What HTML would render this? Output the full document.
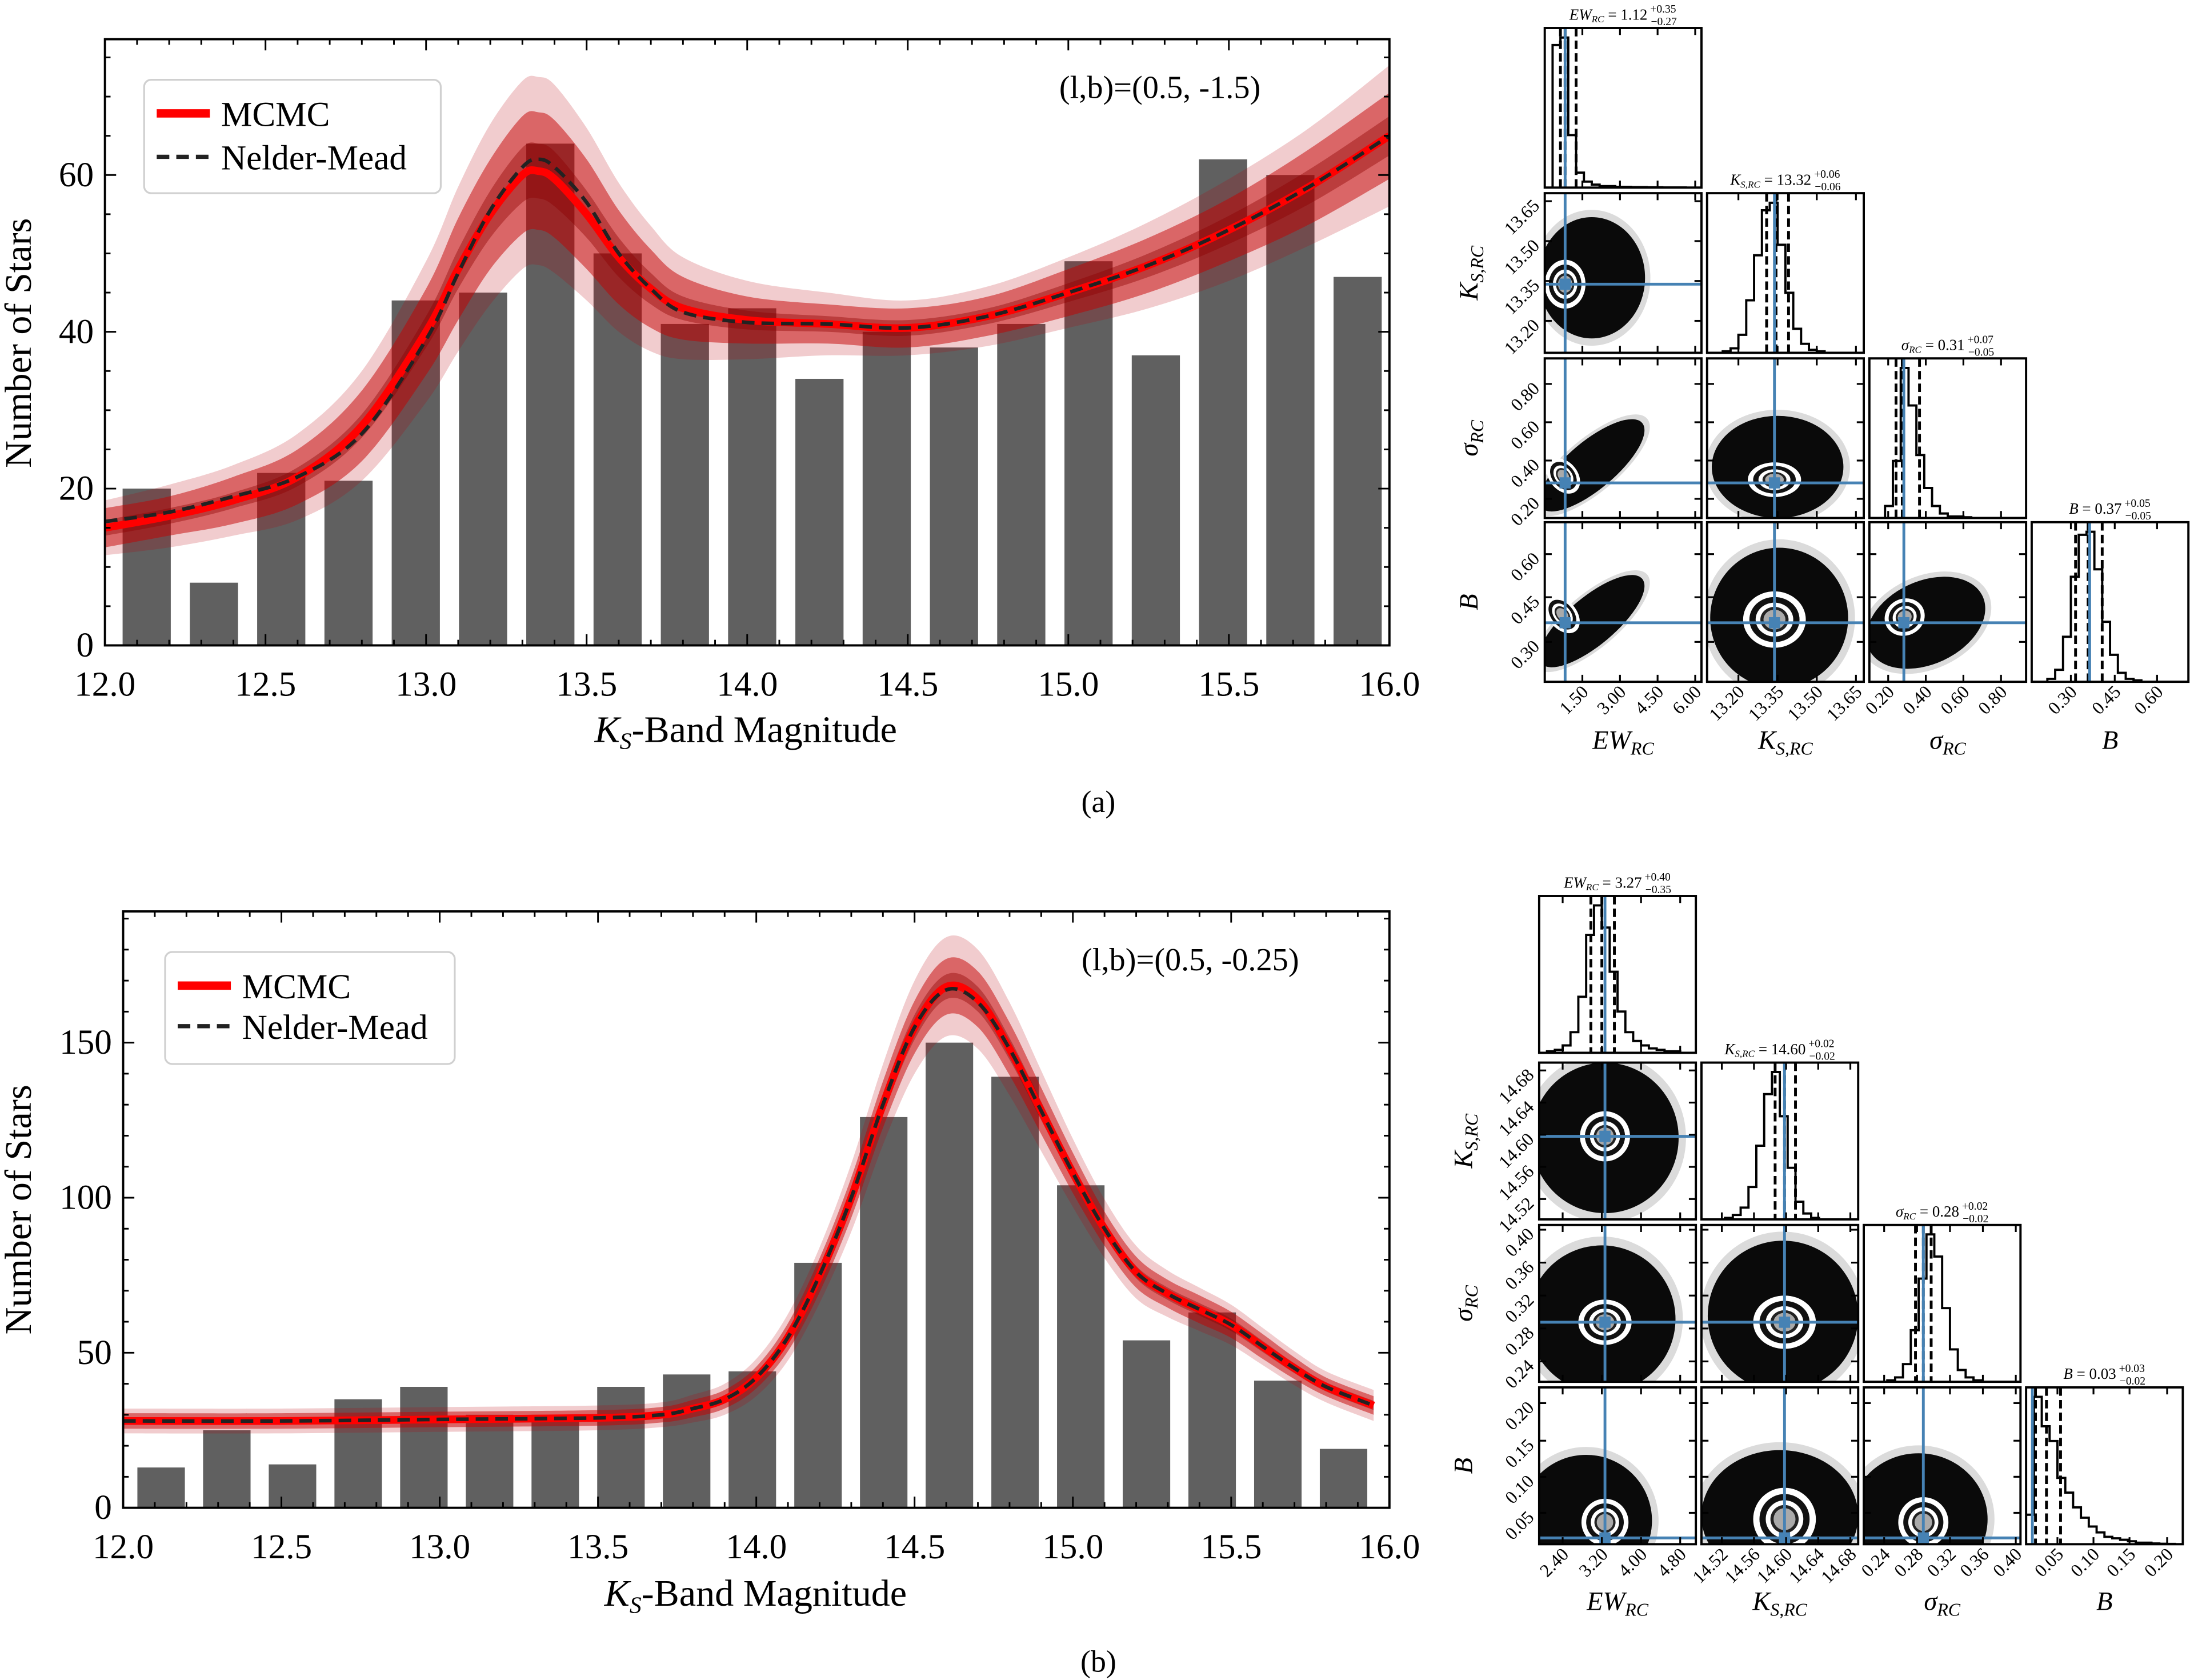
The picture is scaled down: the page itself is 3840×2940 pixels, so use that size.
<!DOCTYPE html>
<html><head><meta charset="utf-8"><style>
html,body{margin:0;padding:0;background:#fff}
svg{display:block}
text{font-family:"Liberation Serif","DejaVu Serif",serif;fill:#000}
</style></head><body>
<svg id="fig" xmlns="http://www.w3.org/2000/svg" width="3840" height="2940" viewBox="0 0 1568 1200" preserveAspectRatio="none">
<defs>
<clipPath id="clipA"><rect x="75" y="28" width="918" height="433"/></clipPath>
<clipPath id="clipB"><rect x="88" y="651" width="905" height="426"/></clipPath>
</defs>
</svg>
<script>
// ===== Panel (a) data =====
const aCounts=[20,8,22,21,44,45,64,50,41,43,34,40,38,41,49,37,62,60,47];
const aCurveX=[12.0,12.2,12.4,12.6,12.8,13.0,13.1,13.2,13.3,13.35,13.4,13.5,13.6,13.7,13.8,14.0,14.25,14.5,14.75,15.0,15.25,15.5,15.75,16.0];
const aMCMC=[15,16.5,18.5,21.5,28,40,48,55,60,60.5,59.5,55,49.5,45.5,43,41.5,41,40.5,42,45,48.5,53,58.5,65];
const aNM=[15.8,17,19,21.5,27,39,47.5,55.5,61,62,61,56.5,50,45.5,42.5,41.2,41,40.5,42,45,48.5,53,58.5,65];
const aW1=[1,1,1,1.2,1.5,2,2.5,3,3.5,3.5,3.5,3,2.5,2,1.5,1.2,1,1,1,1.2,1.5,1.8,2.2,2.5];
const aW2=[2.5,2.5,3,3.5,4.5,5.5,6.5,7,7.5,7.5,7.5,7,6,5,4,3,2.5,2.5,2.5,3,3.5,4,4.8,5.5];
const aW3=[3.5,4,4.5,5.5,7,9,10.5,11.5,12,12,12,11,9.5,8,6.5,5,4,3.5,3.8,4.5,5.5,6.5,7.5,9];
const aYTicks=[0,20,40,60];
// ===== Panel (b) data =====
const bCounts=[13,25,14,35,39,30,30,39,43,44,79,126,150,139,104,54,63,41,19];
const bCurveX=[12.0,12.5,13.0,13.5,13.7,13.8,13.9,14.0,14.1,14.2,14.3,14.4,14.5,14.6,14.7,14.8,14.9,15.0,15.1,15.2,15.3,15.4,15.5,15.6,15.7,15.8,15.95];
const bMCMC=[28,28,28.5,29,30,32,35,42,55,75,100,130,155,168,164,148,128,108,90,76,69,64,59,52,45,39,33];
const bNM=[28,28,28.5,29,30,32,35,42,55,75,100,130,155,167,163,148,128,108,90,76,69,64,59,52,45,39,33];
const bW1=[1,1,1,1,1,1,1.2,1.5,2,2.5,3,3.5,4,4,4,3.5,3,2.5,2,2,2,2,2,1.8,1.6,1.5,1.5];
const bW2=[2.5,2.5,2.5,2.5,2.5,2.8,3,3.5,4.5,5.5,6.5,7.5,8.5,9,9,8.5,7.5,6.5,5.5,5,4.5,4.5,4.2,4,3.5,3,3];
const bW3=[4,4,4,4,4,4.5,5,6,7.5,9,11,13,15,16,16,15,13,11,9.5,8.5,7.5,7,6.5,6,5.5,5,5];
const bYTicks=[0,50,100,150];
const xTickLabels=["12.0","12.5","13.0","13.5","14.0","14.5","15.0","15.5","16.0"];

// ===== Corner data (histograms, 20 bins each) =====
const caHistEW=[0,95,100,35,10,4,2,1,1,.5,.5,.3,.3,.2,.2,.1,.1,.1,0,0];
const caHistK=[0,0,1,3,12,35,65,95,100,72,40,16,6,2,1,0,0,0,0,0];
const caHistS=[0,0,8,38,100,75,42,20,8,3,1,1,.5,0,0,0,0,0,0,0];
const caHistB=[0,0,2,8,30,70,98,100,75,40,18,6,2,1,0,0,0,0,0,0];
const caTruth=[0.13,0.43,0.22,0.37];
const caQ=[[0.1,0.13,0.2],[0.38,0.44,0.52],[0.17,0.21,0.32],[0.28,0.36,0.45]];
const cbHistEW=[0,1,2,5,14,38,80,100,85,55,28,14,8,5,3,2,1,1,0,0];
const cbHistK=[0,0,0,1,3,8,22,50,85,100,70,35,12,4,1,0,0,0,0,0];
const cbHistS=[0,0,0,1,3,12,35,70,100,85,50,22,8,3,1,0,0,0,0,0];
const cbHistB=[20,100,80,70,45,35,25,18,12,8,5,4,3,2,1,1,.5,.3,.2,0];
const cbTruth=[0.42,0.53,0.38,0.04];
const cbQ=[[0.33,0.4,0.48],[0.47,0.53,0.6],[0.33,0.38,0.43],[0.06,0.13,0.22]];

const NS="http://www.w3.org/2000/svg";
const svg=document.getElementById('fig');
function mk(tag,attrs,parent){const e=document.createElementNS(NS,tag);for(const k in attrs)e.setAttribute(k,attrs[k]);(parent||svg).appendChild(e);return e;}
function smooth(pts){let d="M"+pts[0][0]+","+pts[0][1];for(let i=0;i<pts.length-1;i++){const p0=pts[Math.max(0,i-1)],p1=pts[i],p2=pts[i+1],p3=pts[Math.min(pts.length-1,i+2)];const c1x=p1[0]+(p2[0]-p0[0])/6,c1y=p1[1]+(p2[1]-p0[1])/6,c2x=p2[0]-(p3[0]-p1[0])/6,c2y=p2[1]-(p3[1]-p1[1])/6;d+=" C"+c1x+","+c1y+" "+c2x+","+c2y+" "+p2[0]+","+p2[1];}return d;}

function drawMain(cfg){
  const {x0,x1,y0,top,ppv,counts,binStart,binStep,cx,mc,nm,w1,w2,w3,yTicks,yMinor,clip,name}=cfg;
  const X=v=>x0+(v-12)/4*(x1-x0), Y=v=>y0-v*ppv;
  const g=mk('g',{});
  
  
  const bw=(X(12.15)-X(12));
  counts.forEach((c,i)=>{const cxv=binStart+i*binStep;const r=mk('rect',{x:X(cxv)-bw/2,y:Y(c),width:bw,height:Y(0)-Y(c),fill:'#606060'},g);
    
    });
  const cg=mk('g',{'clip-path':'url(#'+clip+')'},g);
  [[w3,'rgba(185,0,10,0.2)'],[w2,'rgba(195,0,0,0.5)'],[w1,'rgba(140,0,0,0.4)']].forEach(([w,col],k)=>{
    const up=cx.map((x,i)=>[X(x),Y(mc[i]+w[i])]),lo=cx.map((x,i)=>[X(x),Y(mc[i]-w[i])]).reverse();
    const sl=smooth(lo);
    const d=smooth(up)+" L"+lo[0][0]+","+lo[0][1]+sl.slice(sl.indexOf(' C'))+" Z";
    const p=mk('path',{d:d,fill:col,stroke:'none'},cg);
    
    });
  const l1=mk('path',{d:smooth(cx.map((x,i)=>[X(x),Y(mc[i])])),fill:'none',stroke:'#ff0000','stroke-width':5.5},cg);
  
  
  const l2=mk('path',{d:smooth(cx.map((x,i)=>[X(x),Y(nm[i])])),fill:'none',stroke:'#222','stroke-width':2.6,'stroke-dasharray':'9,5'},cg);
  
  
  const fr=mk('rect',{x:x0,y:top,width:x1-x0,height:y0-top,fill:'none',stroke:'#000','stroke-width':1.6},g);
  
  
  for(let t=120;t<=160;t++){const v=t/10;const maj=t%5===0;const L=maj?8:4;
    mk('line',{x1:X(v),x2:X(v),y1:y0,y2:y0-L,stroke:'#000','stroke-width':1.2},g);
    mk('line',{x1:X(v),x2:X(v),y1:top,y2:top+L,stroke:'#000','stroke-width':1.2},g);}
  xTickLabels.forEach((s,i)=>{const t=mk('text',{x:X(12+i*0.5),y:y0+36,'font-size':25,'text-anchor':'middle'},g);t.textContent=s;
    
    });
  const ymax=(y0-top)/ppv;
  for(let v=0;v<=ymax;v+=yMinor){const maj=yTicks.includes(v);const L=maj?8:4;
    mk('line',{x1:x0,x2:x0+L,y1:Y(v),y2:Y(v),stroke:'#000','stroke-width':1.2},g);
    mk('line',{x1:x1,x2:x1-L,y1:Y(v),y2:Y(v),stroke:'#000','stroke-width':1.2},g);}
  yTicks.forEach(v=>{const t=mk('text',{x:x0-8,y:Y(v)+8,'font-size':25,'text-anchor':'end'},g);t.textContent=v;
    
    });
}
drawMain({name:'panel-a',x0:75,x1:993,y0:461,top:28,ppv:5.6,counts:aCounts,binStart:12.13,binStep:0.2095,cx:aCurveX,mc:aMCMC,nm:aNM,w1:aW1,w2:aW2,w3:aW3,yTicks:aYTicks,yMinor:5,clip:'clipA'});
drawMain({name:'panel-b',x0:88,x1:993,y0:1077,top:651,ppv:2.215,counts:bCounts,binStart:12.12,binStep:0.2075,cx:bCurveX,mc:bMCMC,nm:bNM,w1:bW1,w2:bW2,w3:bW3,yTicks:bYTicks,yMinor:10,clip:'clipB'});

function txt(x,y,size,html,name,extra){const t=mk('text',Object.assign({x:x,y:y,'font-size':size},extra||{}));t.innerHTML=html;
  
  return t;}
function legend(x,y,w,h,lx,ly1,ly2,name){
  const g=mk('g',{});
  
  
  mk('rect',{x:x,y:y,width:w,height:h,rx:5,fill:'#fff','fill-opacity':0.85,stroke:'#d0d0d0','stroke-width':1.3},g);
  mk('line',{x1:lx,x2:lx+38,y1:ly1,y2:ly1,stroke:'#ff0000','stroke-width':6},g);
  mk('line',{x1:lx,x2:lx+38,y1:ly2,y2:ly2,stroke:'#222','stroke-width':3,'stroke-dasharray':'9,5'},g);
  const t1=mk('text',{x:lx+46,y:ly1+9,'font-size':25},g);t1.textContent='MCMC';
  
  
  const t2=mk('text',{x:lx+46,y:ly2+9,'font-size':25},g);t2.textContent='Nelder-Mead';
  
  
}
legend(103,57,212,81,112,81,112,'legend-a');
legend(118,680,207,80,127,704,733,'legend-b');
txt(757,70,23,'(l,b)=(0.5, -1.5)','coords-label-a');
txt(773,693,23,'(l,b)=(0.5, -0.25)','coords-label-b');
txt(533,530,27,'<tspan font-style="italic">K</tspan><tspan font-style="italic" font-size="17" dy="5">S</tspan><tspan dy="-5">-Band Magnitude</tspan>','x-axis-title-a',{'text-anchor':'middle'});
txt(540,1147,27,'<tspan font-style="italic">K</tspan><tspan font-style="italic" font-size="17" dy="5">S</tspan><tspan dy="-5">-Band Magnitude</tspan>','x-axis-title-b',{'text-anchor':'middle'});
txt(22,245,27,'Number of Stars','y-axis-title-a',{'text-anchor':'middle',transform:'rotate(-90 22 245)'});
txt(22,864,27,'Number of Stars','y-axis-title-b',{'text-anchor':'middle',transform:'rotate(-90 22 864)'});
txt(785,580,22,'(a)','caption-a',{'text-anchor':'middle'});
txt(785,1194,22,'(b)','caption-b',{'text-anchor':'middle'});

// ===== Corner plots =====
function corner(c){
  const {cols,rows,w,h,hists,truth,q,blobs,ticks,titles,name,labelY,yLabelX}=c;
  const g=mk('g',{});
  
  
  const names=['<tspan font-style="italic">EW</tspan><tspan font-style="italic" font-size="13" dy="4">RC</tspan>',
    '<tspan font-style="italic">K</tspan><tspan font-style="italic" font-size="13" dy="4">S,RC</tspan>',
    '<tspan font-style="italic">σ</tspan><tspan font-style="italic" font-size="13" dy="4">RC</tspan>',
    '<tspan font-style="italic">B</tspan>'];
  const blue='#4682b4';
  let bi=0;
  for(let r=0;r<4;r++)for(let col=0;col<=r;col++){
    const x=cols[col],y=rows[r];
    const pg=mk('g',{},g);
    const cid=name+'c'+r+col;
    const cp=mk('clipPath',{id:cid},pg);mk('rect',{x:x,y:y,width:w,height:h},cp);
    if(r===col){
      
      
      const hs=hists[r],mx=Math.max(...hs),n=hs.length,bwid=w/n;
      let d="M"+x+","+(y+h);
      hs.forEach((v,i)=>{const yy=y+h-v/mx*h*0.94;d+=" L"+(x+i*bwid)+","+yy+" L"+(x+(i+1)*bwid)+","+yy;});
      d+=" L"+(x+w)+","+(y+h);
      mk('path',{d:d,fill:'none',stroke:'#000','stroke-width':1.6,'clip-path':'url(#'+cid+')'},pg);
      q[r].forEach(f=>mk('line',{x1:x+f*w,x2:x+f*w,y1:y,y2:y+h,stroke:'#000','stroke-width':2,'stroke-dasharray':'6,3'},pg));
      mk('line',{x1:x+truth[r]*w,x2:x+truth[r]*w,y1:y,y2:y+h,stroke:blue,'stroke-width':2},pg);
      const tt=mk('text',{x:x+w/2,y:y-6,'font-size':11,'text-anchor':'middle'},g);tt.innerHTML=titles[r];
      
      
    } else {
      
      
      const b=blobs[bi++];const cg=mk('g',{'clip-path':'url(#'+cid+')'},pg);
      const ex=x+b[0]*w,ey=y+h-b[1]*h,rx=b[2]*w,ry=b[3]*h,rot=b[4];
      mk('ellipse',{cx:ex,cy:ey,rx:rx*1.1,ry:ry*1.12,fill:'#888','fill-opacity':0.3,transform:'rotate('+rot+' '+ex+' '+ey+')'},cg);
      mk('ellipse',{cx:ex,cy:ey,rx:rx,ry:ry,fill:'#0a0a0a',transform:'rotate('+rot+' '+ex+' '+ey+')'},cg);
      const tx=x+truth[col]*w,ty=y+h-truth[r]*h;
      const cr=b[5]*w;
      [[1,'#fff'],[0.8,'#111'],[0.6,'#fff'],[0.45,'#222'],[0.35,'#aaa']].forEach(([s,cl])=>mk('ellipse',{cx:tx+b[6]*w,cy:ty-b[7]*h,rx:cr*s,ry:cr*s*b[8],fill:cl,transform:'rotate('+rot+' '+tx+' '+ty+')'},cg));
      mk('line',{x1:tx,x2:tx,y1:y,y2:y+h,stroke:blue,'stroke-width':2},cg);
      mk('line',{x1:x,x2:x+w,y1:ty,y2:ty,stroke:blue,'stroke-width':2},cg);
      mk('rect',{x:tx-4,y:ty-4,width:8,height:8,fill:blue},cg);
    }
    mk('rect',{x:x,y:y,width:w,height:h,fill:'none',stroke:'#000','stroke-width':1.6},pg);
    ticks[col].f.forEach(f=>{const tx=x+f*w;mk('line',{x1:tx,x2:tx,y1:y+h,y2:y+h-5,stroke:'#000','stroke-width':1.3},pg);mk('line',{x1:tx,x2:tx,y1:y,y2:y+5,stroke:'#000','stroke-width':1.3},pg);});
    if(r!==col)ticks[r].f.forEach(f=>{const ty=y+h-f*h;mk('line',{x1:x,x2:x+5,y1:ty,y2:ty,stroke:'#000','stroke-width':1.3},pg);mk('line',{x1:x+w,x2:x+w-5,y1:ty,y2:ty,stroke:'#000','stroke-width':1.3},pg);});
    if(r===3){ticks[col].l.forEach((s,i)=>{const tx=x+ticks[col].f[i]*w+5,ty=y+h+8;
      const t=mk('text',{x:tx,y:ty,'font-size':13,'text-anchor':'end',transform:'rotate(-45 '+tx+' '+ty+')'},g);t.textContent=s;
      
      });
      const al=mk('text',{x:x+w/2,y:labelY,'font-size':19,'text-anchor':'middle'},g);al.innerHTML=names[col];
      
      }
    if(col===0&&r>0){ticks[r].l.forEach((s,i)=>{const tx=x-3,ty=y+h-ticks[r].f[i]*h+4;
      const t=mk('text',{x:tx,y:ty,'font-size':13,'text-anchor':'end',transform:'rotate(-45 '+tx+' '+ty+')'},g);t.textContent=s;
      
      });
      const cy=y+h/2;const al=mk('text',{x:yLabelX,y:cy,'font-size':19,'text-anchor':'middle',transform:'rotate(-90 '+yLabelX+' '+cy+')'},g);al.innerHTML=names[r];
      
      }
  }
}
const sup=(s,p,m)=>s+'<tspan font-size="8" dx="2" dy="-5">+'+p+'</tspan><tspan font-size="8" dx="-18" dy="9">−'+m+'</tspan>';
// blob: [cx, cy, rx, ry, rot, contourR, contourDx, contourDy, contourAspect]
corner({name:'corner-plot-a',cols:[1104,1220,1336,1452],rows:[20,138,256,373],w:112,h:114,labelY:535,yLabelX:1056,
  hists:[caHistEW,caHistK,caHistS,caHistB],truth:caTruth,q:caQ,
  blobs:[[0.3,0.47,0.34,0.38,0,0.13,0,0,1.2],[0.3,0.33,0.42,0.15,-40,0.09,0.02,0.04,1.4],[0.45,0.32,0.42,0.32,0,0.17,0,0.02,0.65],[0.3,0.38,0.42,0.15,-40,0.09,0.02,0.05,1.5],[0.46,0.4,0.44,0.44,0,0.2,0,0.02,0.9],[0.36,0.37,0.4,0.26,-25,0.13,0.02,0.03,0.9]],
  ticks:[{f:[0.24,0.48,0.72,0.96],l:['1.50','3.00','4.50','6.00']},{f:[0.2,0.45,0.7,0.95],l:['13.20','13.35','13.50','13.65']},{f:[0.12,0.36,0.6,0.84],l:['0.20','0.40','0.60','0.80']},{f:[0.25,0.53,0.8],l:['0.30','0.45','0.60']}],
  titles:[sup('<tspan font-style="italic">EW<tspan font-size="7" dy="2">RC</tspan></tspan><tspan dy="-2"> = 1.12</tspan>','0.35','0.27'),
    sup('<tspan font-style="italic">K<tspan font-size="7" dy="2">S,RC</tspan></tspan><tspan dy="-2"> = 13.32</tspan>','0.06','0.06'),
    sup('<tspan font-style="italic">σ<tspan font-size="7" dy="2">RC</tspan></tspan><tspan dy="-2"> = 0.31</tspan>','0.07','0.05'),
    sup('<tspan font-style="italic">B</tspan> = 0.37','0.05','0.05')]});
corner({name:'corner-plot-b',cols:[1100,1216,1332,1448],rows:[640,759,875,991],w:112,h:112,labelY:1150,yLabelX:1052,
  hists:[cbHistEW,cbHistK,cbHistS,cbHistB],truth:cbTruth,q:cbQ,
  blobs:[[0.42,0.52,0.47,0.48,0,0.16,0,0,1],[0.4,0.4,0.47,0.47,0,0.17,0,0,0.85],[0.52,0.42,0.48,0.48,0,0.2,0,0,0.85],[0.3,0.15,0.42,0.42,0,0.15,0,0.1,1],[0.5,0.18,0.5,0.42,0,0.2,0,0.12,1],[0.35,0.16,0.44,0.42,0,0.16,0,0.1,1]],
  ticks:[{f:[0.15,0.4,0.65,0.9],l:['2.40','3.20','4.00','4.80']},{f:[0.13,0.335,0.54,0.745,0.95],l:['14.52','14.56','14.60','14.64','14.68']},{f:[0.13,0.34,0.55,0.76,0.97],l:['0.24','0.28','0.32','0.36','0.40']},{f:[0.2,0.43,0.66,0.9],l:['0.05','0.10','0.15','0.20']}],
  titles:[sup('<tspan font-style="italic">EW<tspan font-size="7" dy="2">RC</tspan></tspan><tspan dy="-2"> = 3.27</tspan>','0.40','0.35'),
    sup('<tspan font-style="italic">K<tspan font-size="7" dy="2">S,RC</tspan></tspan><tspan dy="-2"> = 14.60</tspan>','0.02','0.02'),
    sup('<tspan font-style="italic">σ<tspan font-size="7" dy="2">RC</tspan></tspan><tspan dy="-2"> = 0.28</tspan>','0.02','0.02'),
    sup('<tspan font-style="italic">B</tspan> = 0.03','0.03','0.02')]});
</script>
</body></html>
